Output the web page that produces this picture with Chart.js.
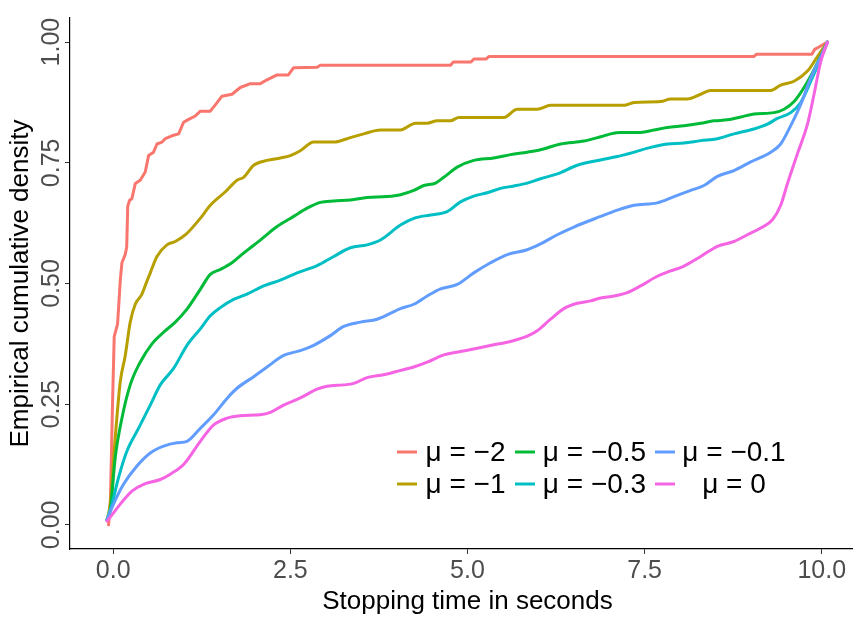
<!DOCTYPE html>
<html>
<head>
<meta charset="utf-8">
<title>Empirical cumulative density</title>
<script src="https://cdn.jsdelivr.net/npm/chart.js@4.4.1/dist/chart.umd.min.js"></script>
<style>
  html, body { margin: 0; padding: 0; background: #fff; overflow: hidden; }
  #wrap { width: 865px; height: 617px; }
</style>
</head>
<body>
<div id="wrap"><canvas id="ecdfChart" width="865" height="617"></canvas></div>
<script>
// Stopping time (s) / empirical cumulative density pairs
const muMinus2 = [
  [-0.066, 0.0], [-0.04, 0.05], [-0.01, 0.25], [0.014, 0.39], [0.061, 0.416], [0.089, 0.48],
  [0.099, 0.506], [0.123, 0.543], [0.169, 0.56], [0.19, 0.575], [0.205, 0.66], [0.23, 0.672],
  [0.264, 0.676], [0.311, 0.707], [0.381, 0.714], [0.452, 0.731], [0.499, 0.765], [0.569, 0.772],
  [0.617, 0.789], [0.688, 0.793], [0.734, 0.80], [0.829, 0.806], [0.923, 0.81], [0.993, 0.834],
  [1.064, 0.84], [1.158, 0.847], [1.229, 0.857], [1.37, 0.857], [1.441, 0.87], [1.535, 0.888],
  [1.676, 0.892], [1.794, 0.906], [1.935, 0.914], [2.076, 0.914], [2.171, 0.922], [2.312, 0.932],
  [2.472, 0.932], [2.547, 0.947], [2.877, 0.948], [2.924, 0.952], [4.76, 0.952], [4.80, 0.959],
  [5.05, 0.959], [5.09, 0.965], [5.26, 0.965], [5.30, 0.970], [9.04, 0.970], [9.08, 0.975],
  [9.86, 0.975], [9.90, 0.985], [9.96, 0.99], [10.08, 1.0]
];
const muMinus1 = [
  [-0.089, 0.01], [-0.042, 0.043], [0.028, 0.18], [0.099, 0.296], [0.169, 0.35], [0.24, 0.42],
  [0.311, 0.457], [0.405, 0.478], [0.476, 0.505], [0.523, 0.522], [0.617, 0.556], [0.758, 0.58],
  [0.876, 0.587], [1.041, 0.604], [1.229, 0.635], [1.37, 0.662], [1.582, 0.69], [1.747, 0.714],
  [1.84, 0.72], [1.982, 0.745], [2.171, 0.755], [2.359, 0.76], [2.5, 0.765], [2.641, 0.775],
  [2.829, 0.793], [3.112, 0.793], [3.301, 0.80], [3.535, 0.81], [3.771, 0.818], [4.054, 0.818],
  [4.266, 0.832], [4.43, 0.832], [4.572, 0.837], [4.76, 0.837], [4.877, 0.844], [5.513, 0.844],
  [5.702, 0.861], [5.984, 0.861], [6.172, 0.869], [7.208, 0.869], [7.349, 0.875], [7.726, 0.877],
  [7.867, 0.882], [8.103, 0.882], [8.291, 0.892], [8.432, 0.90], [9.28, 0.90], [9.42, 0.911],
  [9.609, 0.919], [9.798, 0.94], [9.939, 0.97], [10.08, 1.0]
];
const muMinus05 = [
  [-0.089, 0.01], [-0.042, 0.029], [0.028, 0.139], [0.123, 0.221], [0.24, 0.29], [0.381, 0.337],
  [0.547, 0.375], [0.71, 0.399], [0.876, 0.42], [1.041, 0.447], [1.229, 0.488], [1.37, 0.519],
  [1.511, 0.529], [1.676, 0.543], [1.84, 0.563], [2.076, 0.59], [2.312, 0.618], [2.547, 0.639],
  [2.736, 0.656], [2.924, 0.668], [3.112, 0.671], [3.347, 0.673], [3.583, 0.678], [3.866, 0.68],
  [4.054, 0.684], [4.242, 0.693], [4.383, 0.703], [4.548, 0.708], [4.665, 0.72], [4.855, 0.741],
  [5.089, 0.755], [5.371, 0.76], [5.607, 0.767], [5.843, 0.772], [6.031, 0.777], [6.314, 0.789],
  [6.643, 0.795], [6.879, 0.804], [7.02, 0.81], [7.161, 0.813], [7.444, 0.813], [7.631, 0.818],
  [7.821, 0.823], [8.055, 0.827], [8.291, 0.832], [8.479, 0.837], [8.668, 0.839], [8.856, 0.845],
  [9.044, 0.851], [9.326, 0.854], [9.467, 0.861], [9.609, 0.877], [9.75, 0.906], [9.891, 0.943],
  [10.08, 1.0]
];
const muMinus03 = [
  [-0.089, 0.01], [-0.018, 0.043], [0.075, 0.098], [0.194, 0.153], [0.357, 0.2], [0.523, 0.248],
  [0.664, 0.29], [0.852, 0.324], [1.041, 0.372], [1.229, 0.406], [1.37, 0.433], [1.511, 0.45],
  [1.699, 0.467], [1.888, 0.478], [2.123, 0.495], [2.359, 0.507], [2.595, 0.522], [2.877, 0.537],
  [3.112, 0.556], [3.347, 0.574], [3.583, 0.58], [3.771, 0.59], [4.054, 0.621], [4.242, 0.635],
  [4.477, 0.642], [4.713, 0.649], [4.901, 0.669], [5.089, 0.681], [5.278, 0.688], [5.466, 0.697],
  [5.654, 0.702], [5.843, 0.708], [6.031, 0.717], [6.267, 0.727], [6.549, 0.745], [6.879, 0.756],
  [7.114, 0.763], [7.349, 0.772], [7.585, 0.782], [7.821, 0.789], [8.055, 0.791], [8.291, 0.796],
  [8.527, 0.80], [8.761, 0.81], [9.044, 0.82], [9.233, 0.83], [9.374, 0.842], [9.562, 0.854],
  [9.703, 0.875], [9.845, 0.919], [9.986, 0.967], [10.08, 1.0]
];
const muMinus01 = [
  [-0.089, 0.01], [0.004, 0.043], [0.145, 0.084], [0.335, 0.122], [0.523, 0.149], [0.71, 0.163],
  [0.9, 0.17], [1.041, 0.173], [1.229, 0.2], [1.417, 0.228], [1.606, 0.262], [1.747, 0.283],
  [1.982, 0.307], [2.171, 0.327], [2.405, 0.351], [2.641, 0.361], [2.829, 0.372], [3.065, 0.392],
  [3.253, 0.411], [3.489, 0.42], [3.725, 0.426], [4.054, 0.448], [4.242, 0.457], [4.431, 0.474],
  [4.619, 0.489], [4.855, 0.498], [5.089, 0.522], [5.325, 0.543], [5.561, 0.56], [5.843, 0.57],
  [6.031, 0.582], [6.267, 0.601], [6.501, 0.617], [6.879, 0.639], [7.114, 0.652], [7.349, 0.662],
  [7.679, 0.667], [7.914, 0.68], [8.15, 0.693], [8.337, 0.703], [8.527, 0.722], [8.761, 0.734],
  [8.997, 0.752], [9.28, 0.772], [9.42, 0.789], [9.562, 0.827], [9.703, 0.871], [9.845, 0.926],
  [9.986, 0.97], [10.08, 1.0]
];
const mu0 = [
  [-0.089, 0.008], [-0.042, 0.016], [0.099, 0.043], [0.264, 0.07], [0.428, 0.084], [0.664, 0.094],
  [0.805, 0.105], [0.993, 0.125], [1.229, 0.173], [1.417, 0.207], [1.606, 0.221], [1.794, 0.226],
  [2.076, 0.228], [2.218, 0.233], [2.405, 0.248], [2.641, 0.263], [2.877, 0.281], [3.018, 0.287],
  [3.253, 0.29], [3.394, 0.293], [3.583, 0.305], [3.818, 0.311], [4.054, 0.32], [4.242, 0.327],
  [4.431, 0.337], [4.665, 0.352], [4.901, 0.359], [5.137, 0.366], [5.371, 0.373], [5.607, 0.38],
  [5.843, 0.391], [5.984, 0.402], [6.172, 0.426], [6.36, 0.448], [6.549, 0.459], [6.737, 0.464],
  [6.879, 0.47], [7.066, 0.474], [7.256, 0.481], [7.444, 0.495], [7.679, 0.515], [7.867, 0.526],
  [8.055, 0.536], [8.291, 0.556], [8.527, 0.577], [8.761, 0.587], [8.951, 0.601], [9.138, 0.615],
  [9.304, 0.632], [9.42, 0.662], [9.516, 0.707], [9.657, 0.769], [9.798, 0.83], [9.891, 0.892],
  [9.986, 0.96], [10.08, 1.0]
];

const seriesLabels = ['μ = −2', 'μ = −1', 'μ = −0.5', 'μ = −0.3', 'μ = −0.1', 'μ = 0'];
const seriesData = [muMinus2, muMinus1, muMinus05, muMinus03, muMinus01, mu0];
const seriesColors = ['#F8766D', '#B79F00', '#00BA38', '#00BFC4', '#619CFF', '#F564E3'];
const xTicks = [0, 2.5, 5, 7.5, 10];
const yTicks = [0, 0.25, 0.5, 0.75, 1];

const FONT = '"Liberation Sans", Arial, Helvetica, sans-serif';

// y tick labels are rotated like the original, so draw them by hand
const rotatedYLabels = {
  id: 'rotatedYLabels',
  afterDraw(chart) {
    const { ctx } = chart;
    const y = chart.scales.y;
    ctx.save();
    ctx.font = '25px ' + FONT;
    ctx.fillStyle = '#4d4d4d';
    ctx.textAlign = 'center';
    ctx.textBaseline = 'middle';
    y.ticks.forEach(t => {
      const py = y.getPixelForValue(t.value);
      ctx.save();
      ctx.translate(52, py);
      ctx.rotate(-Math.PI / 2);
      ctx.fillText(t.value.toFixed(2), 0, 0);
      ctx.restore();
    });
    ctx.restore();
  }
};

// ggplot style legend: 2 rows, filled column by column, inside the panel
const insideLegend = {
  id: 'insideLegend',
  afterDatasetsDraw(chart) {
    const { ctx } = chart;
    const keyX = [397, 515, 655];
    const textCenter = [465.5, 594.5, 734];
    const rowY = [452, 484];
    ctx.save();
    ctx.font = '28px ' + FONT;
    ctx.textAlign = 'center';
    ctx.textBaseline = 'middle';
    ctx.lineWidth = 3;
    chart.data.datasets.forEach((ds, i) => {
      const col = Math.floor(i / 2), row = i % 2;
      const yy = rowY[row];
      ctx.strokeStyle = ds.borderColor;
      ctx.beginPath();
      ctx.moveTo(keyX[col], yy);
      ctx.lineTo(keyX[col] + 20, yy);
      ctx.stroke();
      ctx.fillStyle = '#000';
      ctx.fillText(ds.label, textCenter[col], yy + 1);
    });
    ctx.restore();
  }
};

function loadChart() {
  const ctx = document.getElementById('ecdfChart').getContext('2d');
  new Chart(ctx, {
    type: 'line',
    data: {
      datasets: seriesData.map((pts, i) => ({
        label: seriesLabels[i],
        data: pts.map(p => ({ x: p[0], y: p[1] })),
        borderColor: seriesColors[i],
        backgroundColor: seriesColors[i],
        borderWidth: 3,
        pointRadius: 0,
        fill: false,
        tension: i === 0 ? 0 : 0.4,
        cubicInterpolationMode: i === 0 ? 'default' : 'monotone',
        borderJoinStyle: 'round',
        borderCapStyle: 'round',
        order: seriesData.length - i
      }))
    },
    options: {
      responsive: false,
      animation: false,
      devicePixelRatio: 1,
      layout: { padding: { top: 12, right: 0, bottom: 0, left: 0 } },
      plugins: {
        legend: { display: false },
        tooltip: { enabled: false }
      },
      scales: {
        x: {
          type: 'linear',
          min: -0.61,
          max: 10.61,
          afterBuildTicks: s => { s.ticks = xTicks.map(v => ({ value: v })); },
          afterFit: s => { s.height = 68; },
          border: { display: true, color: '#000', width: 1.2 },
          grid: { drawOnChartArea: false, drawTicks: true, tickLength: 5, color: '#333' },
          ticks: {
            padding: 2,
            color: '#4d4d4d',
            font: { family: FONT, size: 25 },
            maxRotation: 0,
            callback: v => v.toFixed(1)
          },
          title: {
            display: true,
            text: 'Stopping time in seconds',
            color: '#000',
            font: { family: FONT, size: 26 },
            padding: { top: 0, bottom: 0 }
          }
        },
        y: {
          type: 'linear',
          min: -0.05,
          max: 1.05,
          afterBuildTicks: s => { s.ticks = yTicks.map(v => ({ value: v })); },
          afterFit: s => { s.width = 70; },
          border: { display: true, color: '#000', width: 1.2 },
          grid: { drawOnChartArea: false, drawTicks: true, tickLength: 5, color: '#333' },
          ticks: { color: 'rgba(0,0,0,0)', font: { family: FONT, size: 25 } },
          title: {
            display: true,
            text: 'Empirical cumulative density',
            color: '#000',
            font: { family: FONT, size: 26 },
            padding: { top: 5, bottom: 0 }
          }
        }
      }
    },
    plugins: [rotatedYLabels, insideLegend]
  });
}

window.onload = loadChart;
</script>
</body>
</html>
